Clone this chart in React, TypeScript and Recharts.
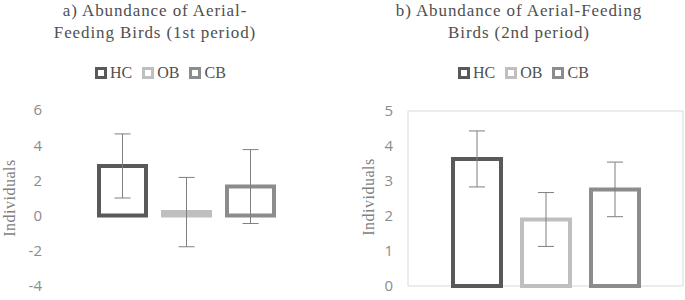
import React from 'react';
import { BarChart, Bar, XAxis, YAxis, ErrorBar, ReferenceArea } from 'recharts';

const seriesNames = ['HC', 'OB', 'CB'];
const seriesColors = ['#595959', '#bfbfbf', '#8c8c8c'];

const firstValues = [2.82, 0.2, 1.65];
const firstErrors = [1.82, 1.97, 2.1];
const firstTicks = [-4, -2, 0, 2, 4, 6];

const secondValues = [3.63, 1.9, 2.76];
const secondErrors = [0.8, 0.77, 0.78];
const secondTicks = [0, 1, 2, 3, 4, 5];

const toRow = (values: number[], errors: number[]) => {
  const row: Record<string, number | string> = { name: '' };
  seriesNames.forEach((s, i) => {
    row[s] = values[i];
    row[s + 'Err'] = errors[i];
  });
  return [row];
};

const firstData = toRow(firstValues, firstErrors);
const secondData = toRow(secondValues, secondErrors);

const serif = '"Liberation Serif", "Times New Roman", serif';
const textGray = '#4f4f4f';

function Title({ lines, cx }: { lines: string[]; cx: number }) {
  return (
    <div
      style={{
        position: 'absolute',
        left: cx - 170,
        top: 0,
        width: 340,
        textAlign: 'center',
        fontFamily: serif,
        fontSize: 17,
        lineHeight: '22px',
        letterSpacing: 0.9,
        color: textGray,
      }}
    >
      {lines.map((l) => (
        <div key={l}>{l}</div>
      ))}
    </div>
  );
}

function LegendRow({ left }: { left: number }) {
  return (
    <div
      style={{
        position: 'absolute',
        left,
        top: 64,
        display: 'flex',
        alignItems: 'center',
        fontFamily: serif,
        fontSize: 16,
        color: textGray,
      }}
    >
      {seriesNames.map((s, i) => (
        <div key={s} style={{ display: 'flex', alignItems: 'center', marginRight: 10 }}>
          <span
            style={{
              display: 'inline-block',
              width: 6,
              height: 6,
              border: `3px solid ${seriesColors[i]}`,
              marginRight: 3,
            }}
          />
          <span>{s}</span>
        </div>
      ))}
    </div>
  );
}

function AxisTitle({ x, y }: { x: number; y: number }) {
  return (
    <div
      style={{
        position: 'absolute',
        left: x,
        top: y,
        transform: 'translate(-50%, -50%) rotate(-90deg)',
        fontFamily: serif,
        fontSize: 16,
        letterSpacing: 0.5,
        color: '#7f7f7f',
        whiteSpace: 'nowrap',
      }}
    >
      Individuals
    </div>
  );
}

const tickStyle = { fontFamily: '"Open Sans", sans-serif', fontSize: 15, fill: '#8c8c8c' };

function Bars() {
  return seriesNames.map((s, i) => (
    <Bar
      key={s}
      dataKey={s}
      fill="#ffffff"
      stroke={seriesColors[i]}
      strokeWidth={4}
      isAnimationActive={false}
    >
      <ErrorBar dataKey={s + 'Err'} width={8} stroke="#7f7f7f" strokeWidth={1} direction="y" />
    </Bar>
  ));
}

export default function App() {
  return (
    <div style={{ position: 'absolute', left: 0, top: 0, width: 685, height: 300, background: '#fff' }}>
      <Title lines={['a) Abundance of Aerial-', 'Feeding Birds (1st period)']} cx={155} />
      <Title lines={['b) Abundance of Aerial-Feeding', 'Birds (2nd period)']} cx={519} />
      <LegendRow left={95} />
      <LegendRow left={458} />

      <div style={{ position: 'absolute', left: 0, top: 0 }}>
        <BarChart
          width={340}
          height={300}
          data={firstData}
          margin={{ top: 110, right: 18, bottom: 14, left: 0 }}
          barSize={47}
          barGap={17}
        >
          <XAxis dataKey="name" hide />
          <YAxis
            width={50}
            domain={[-4, 6]}
            ticks={firstTicks}
            axisLine={false}
            tickLine={false}
            tickSize={0}
            tickMargin={8}
            tick={tickStyle}
          />
          {Bars()}
        </BarChart>
      </div>

      <div style={{ position: 'absolute', left: 340, top: 0 }}>
        <BarChart
          width={345}
          height={300}
          data={secondData}
          margin={{ top: 111, right: 2, bottom: 14, left: 0 }}
          barSize={48}
          barGap={21}
        >
          <XAxis dataKey="name" hide />
          <YAxis
            width={68}
            domain={[0, 5]}
            ticks={secondTicks}
            axisLine={false}
            tickLine={false}
            tickSize={0}
            tickMargin={15}
            tick={tickStyle}
          />
          <ReferenceArea y1={0} y2={5} fill="none" stroke="#d9d9d9" strokeWidth={1} />
          {Bars()}
        </BarChart>
      </div>

      <AxisTitle x={10} y={198} />
      <AxisTitle x={369} y={197} />
    </div>
  );
}
